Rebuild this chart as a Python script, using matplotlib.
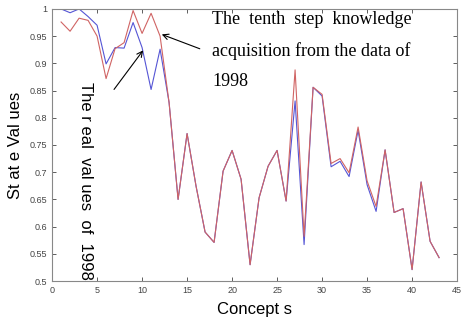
import numpy as np
import matplotlib.pyplot as plt

# concept index 1..43
concepts = np.arange(1, 44)

# real values of 1998 (red)
real_1998 = [0.976, 0.959, 0.983, 0.979, 0.950, 0.872, 0.927, 0.938, 0.997, 0.955,
             0.992, 0.950, 0.828, 0.650, 0.771, 0.674, 0.590, 0.571, 0.702, 0.740,
             0.687, 0.530, 0.653, 0.711, 0.740, 0.647, 0.888, 0.582, 0.856, 0.843,
             0.716, 0.725, 0.699, 0.783, 0.684, 0.637, 0.741, 0.626, 0.633, 0.521,
             0.682, 0.573, 0.543]

# tenth step knowledge acquisition (blue)
tenth_step = [1.000, 0.993, 1.000, 0.986, 0.970, 0.899, 0.929, 0.928, 0.975, 0.929,
              0.852, 0.926, 0.828, 0.650, 0.771, 0.674, 0.590, 0.571, 0.702, 0.740,
              0.687, 0.530, 0.653, 0.711, 0.740, 0.647, 0.831, 0.567, 0.856, 0.840,
              0.710, 0.720, 0.692, 0.777, 0.677, 0.628, 0.741, 0.626, 0.633, 0.521,
              0.682, 0.573, 0.543]

xticks = np.arange(0, 46, 5)
yticks = np.arange(0.5, 1.001, 0.05)

sans = ['Liberation Sans', 'DejaVu Sans']
serif = ['Liberation Serif', 'DejaVu Serif']

fig = plt.figure(figsize=(4.65, 3.19), dpi=100)
ax = fig.add_axes([0.112, 0.119, 0.871, 0.853])

ax.plot(concepts, tenth_step, color='#5555d5', lw=0.8)
ax.plot(concepts, real_1998, color='#d06464', lw=0.8)

ax.set_xlim(0, 45)
ax.set_ylim(0.5, 1.0)
ax.set_xticks(xticks)
ax.set_yticks(yticks)
ax.set_yticklabels(['%g' % round(v, 2) for v in yticks])
ax.tick_params(direction='in', length=3, labelsize=6.5, colors='#444444',
               top=True, right=True, width=0.6)
for lab in ax.get_xticklabels() + ax.get_yticklabels():
    lab.set_family(sans)
for s in ax.spines.values():
    s.set_color('#888888')
    s.set_linewidth(0.8)

ax.set_xlabel('Concept s', fontsize=12, family=sans, labelpad=5)
ax.set_ylabel('St at e Val ues', fontsize=12, family=sans, labelpad=5)

txt = dict(fontsize=13, family=serif, ha='left', va='center')
ax.text(17.8, 0.981, 'The  tenth  step  knowledge', **txt)
ax.text(17.8, 0.922, 'acquisition from the data of', **txt)
ax.text(17.8, 0.866, '1998', **txt)

ax.annotate('', xy=(11.9, 0.955), xytext=(16.7, 0.925),
            arrowprops=dict(arrowstyle='->', color='black', lw=0.8))
ax.annotate('', xy=(10.3, 0.928), xytext=(6.7, 0.848),
            arrowprops=dict(arrowstyle='->', color='black', lw=0.8))

ax.text(3.67, 0.684, 'The r eal  val ues  of  1998', rotation=-90,
        fontsize=12, family=sans, ha='center', va='center')

fig.savefig('out.png', dpi=100)
